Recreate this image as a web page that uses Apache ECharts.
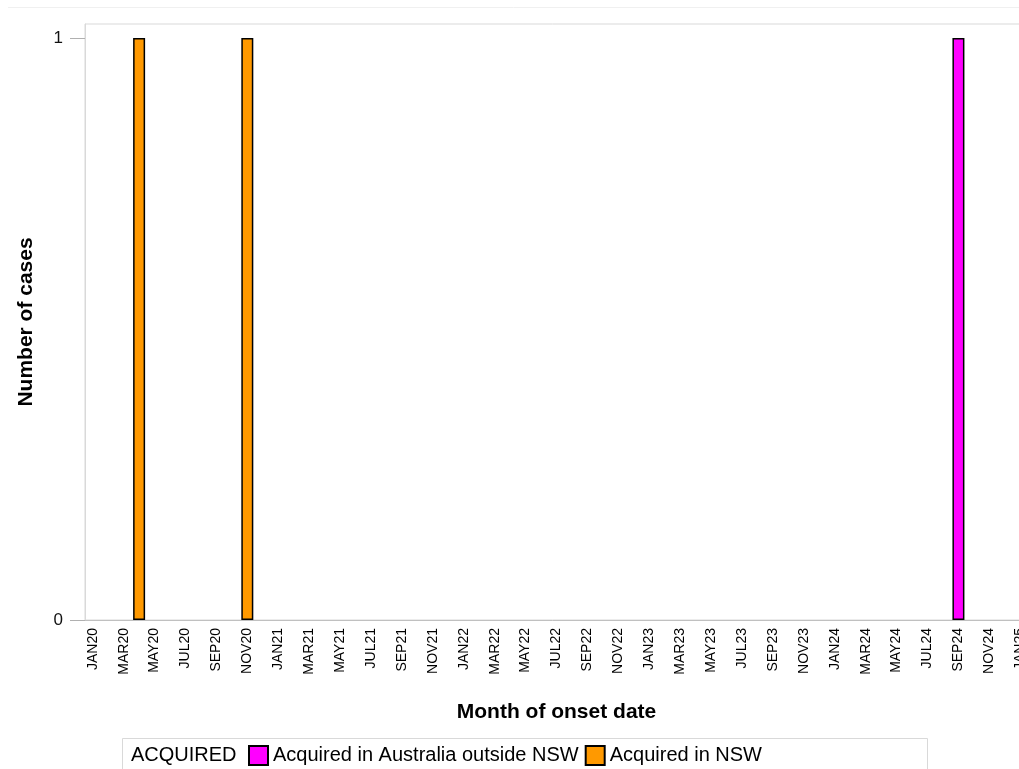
<!DOCTYPE html>
<html>
<head>
<meta charset="utf-8">
<script src="https://cdn.jsdelivr.net/npm/echarts@6/dist/echarts.min.js"></script>
<style>
  html, body { margin: 0; padding: 0; background: #fff; }
  #chart { width: 1019px; height: 769px; }
</style>
</head>
<body>
<div id="chart"></div>
<script>
// month categories JAN20 .. JAN25
var monthNames = ['JAN', 'FEB', 'MAR', 'APR', 'MAY', 'JUN', 'JUL', 'AUG', 'SEP', 'OCT', 'NOV', 'DEC']
var years = ['20', '21', '22', '23', '24']
var months = []
years.forEach(function(y) {
  monthNames.forEach(function(m) { months.push(m + y) })
})
months.push('JAN25')

// number of cases per month
var outsideNSW = [
  0, 0, 0, 0, 0, 0, 0, 0, 0, 0, 0, 0,
  0, 0, 0, 0, 0, 0, 0, 0, 0, 0, 0, 0,
  0, 0, 0, 0, 0, 0, 0, 0, 0, 0, 0, 0,
  0, 0, 0, 0, 0, 0, 0, 0, 0, 0, 0, 0,
  0, 0, 0, 0, 0, 0, 0, 0, 1, 0, 0, 0,
  0
]
var inNSW = [
  0, 0, 0, 1, 0, 0, 0, 0, 0, 0, 1, 0,
  0, 0, 0, 0, 0, 0, 0, 0, 0, 0, 0, 0,
  0, 0, 0, 0, 0, 0, 0, 0, 0, 0, 0, 0,
  0, 0, 0, 0, 0, 0, 0, 0, 0, 0, 0, 0,
  0, 0, 0, 0, 0, 0, 0, 0, 0, 0, 0, 0,
  0
]
var yTicks = [0, 1]

var chart = echarts.init(document.getElementById('chart'))

function toBars(arr) {
  return arr.map(function(v) { return v === 0 ? '-' : v })
}

chart.setOption({
  backgroundColor: '#fff',
  animation: false,
  textStyle: { fontFamily: 'Liberation Sans, Arial, sans-serif' },
  grid: {
    left: 85,
    top: 24,
    height: 596,
    width: 943,
    outerBoundsMode: 'none',
    containLabel: false,
    show: true,
    borderColor: '#d9d9d9',
    borderWidth: 1
  },
  graphic: [
    {
      type: 'line',
      shape: { x1: 8, y1: 7.5, x2: 1019, y2: 7.5 },
      style: { stroke: '#f0f0f0', lineWidth: 1 }
    },
    {
      type: 'rect',
      shape: { x: 122.5, y: 738.5, width: 805, height: 40 },
      style: { fill: 'none', stroke: '#d9d9d9', lineWidth: 1 }
    },
    {
      type: 'text',
      left: 131,
      top: 745,
      style: { text: 'ACQUIRED', font: '20px "Liberation Sans", Arial, sans-serif', fill: '#000' }
    }
  ],
  legend: {
    left: 243,
    top: 740,
    icon: 'rect',
    itemWidth: 19,
    itemHeight: 19,
    itemGap: 6,
    textStyle: { fontSize: 20, color: '#000' },
    data: ['Acquired in Australia outside NSW', 'Acquired in NSW']
  },
  xAxis: {
    type: 'category',
    data: months,
    name: 'Month of onset date',
    nameLocation: 'middle',
    nameGap: 82,
    nameTextStyle: { fontSize: 21, fontWeight: 'bold', color: '#000' },
    axisLine: { lineStyle: { color: '#c0c0c0' } },
    axisTick: { show: false },
    axisLabel: { rotate: 90, interval: 1, fontSize: 14, color: '#000', margin: 8 }
  },
  yAxis: {
    type: 'value',
    min: 0,
    max: 1.024,
    name: 'Number of cases',
    nameLocation: 'middle',
    nameGap: 48,
    nameTextStyle: { fontSize: 21, fontWeight: 'bold', color: '#000' },
    splitLine: { show: false },
    axisLine: { show: true, lineStyle: { color: '#d9d9d9' } },
    axisTick: { show: true, length: 15, customValues: yTicks, lineStyle: { color: '#b0b0b0' } },
    axisLabel: { customValues: yTicks, fontSize: 17, color: '#111', margin: 22 }
  },
  series: [
    {
      name: 'Acquired in Australia outside NSW',
      type: 'bar',
      stack: 'cases',
      barWidth: 12,
      data: toBars(outsideNSW),
      itemStyle: { color: '#ff00ff', borderColor: '#000', borderWidth: 1.5 }
    },
    {
      name: 'Acquired in NSW',
      type: 'bar',
      stack: 'cases',
      barWidth: 12,
      data: toBars(inNSW),
      itemStyle: { color: '#ff9900', borderColor: '#000', borderWidth: 1.5 }
    }
  ]
})
</script>
</body>
</html>
